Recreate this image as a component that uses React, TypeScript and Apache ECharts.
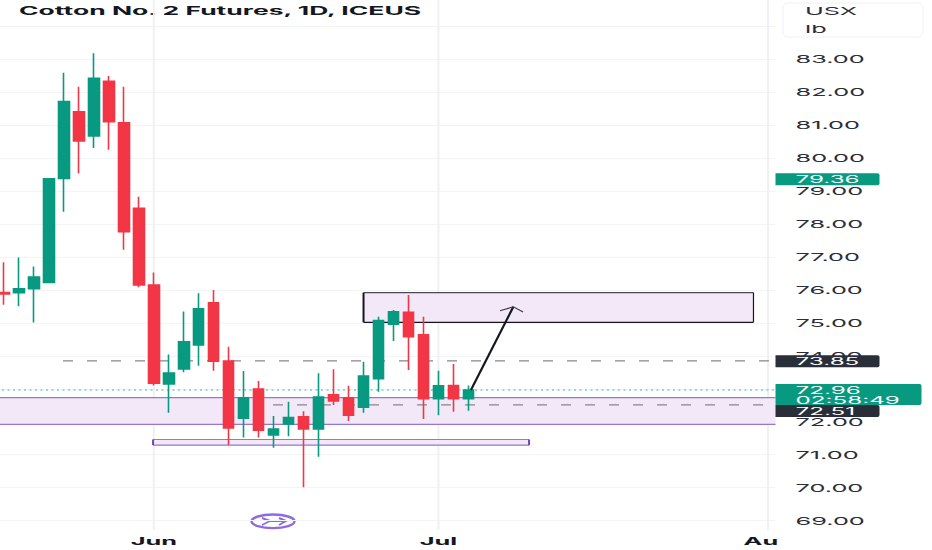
import React, { useEffect, useRef } from "react";
import * as echarts from "echarts";

const titleText = "Cotton No. 2 Futures, 1D, ICEUS";
const unitLabels = ["USX", "lb"];
const monthLabels: Record<number, string> = { 10: "Jun", 29: "Jul" };
const clippedMonth = "Au";
const opens = [75.92,75.92,76.04,76.23,79.39,81.41,80.68,82.34,81.08,78.48,76.15,73.15,73.60,74.33,75.61,73.84,72.11,72.99,71.60,71.93,72.15,71.78,72.82,72.73,72.44,73.31,74.96,75.32,74.64,72.70,73.10,72.70];
const closes = [75.88,76.04,76.39,79.38,81.72,80.53,82.43,81.11,77.77,76.15,73.17,73.48,74.43,75.43,73.84,71.81,72.73,71.74,71.78,72.13,71.78,72.75,72.63,72.20,73.39,75.07,75.34,74.58,72.70,73.09,72.70,72.96];
const lows = [75.55,75.51,75.01,76.23,78.38,79.54,80.31,80.26,77.22,76.08,73.10,72.27,73.50,73.70,73.55,71.29,71.52,71.52,71.21,71.56,70.01,70.94,72.51,72.02,72.27,72.91,74.45,73.57,72.08,72.20,72.30,72.33];
const highs = [76.84,76.99,76.71,79.38,82.60,82.17,83.19,82.50,82.17,78.83,76.53,74.04,75.35,75.90,76.00,74.28,73.54,73.24,72.17,72.61,72.32,73.47,73.59,73.09,73.82,75.19,75.39,75.85,75.19,73.55,73.75,73.10];
const slotCount = 52;
const hiddenTicks = [68, 73, 84, 85];
const dashedLevels = [{ price: 73.85, from: 3.94 }, { price: 72.51, from: 17.96 }];
const lastPrice = 72.96;
const monthLines = [10, 29, 51];
const bigZone = [72.73, 71.92];
const thinZone = { from: 9.95, to: 35.05, top: 71.46, bottom: 71.29 };
const blackZone = { from: 24.0, to: 50.03, top: 75.92, bottom: 75.02 };
const arrowLine = [[31.17, 72.96], [34.0, 75.49]];
const arrowHead = [[33.11, 75.37], [34.0, 75.49], [34.65, 75.33]];
const priceTags = [
  { price: 79.36, text: "79.36", fill: "#089981", shift: 0 },
  { price: 73.85, text: "73.85", fill: "#2a2e39", shift: 0.5 },
  { price: 72.51, text: "72.51", fill: "#2a2e39", shift: 6 },
];
const countdown = "02:58:49";

const FONT = "Inter, 'Liberation Sans', sans-serif";
const STRETCH = 2.3;
const TAG_STRETCH = 2.42;
// The canvas overhangs the page by this much, so the price axis can start on a whole number off-page.
const BLEED = 10;

export default function App() {
  const ref = useRef<HTMLDivElement>(null);
  useEffect(() => {
    const chart = echarts.init(ref.current!, undefined, { renderer: "svg" });
    const cats = Array.from({ length: slotCount }, (_, i) => monthLabels[i] ?? "");
    const candles = opens.map((o, i) => [o, closes[i], lows[i], highs[i]]);
    const purple = "#9575d6";
    const tagText = (x: number, y: number, text: string, fill: string, font = `10px ${FONT}`) => ({
      type: "text", x, y,
      style: { text, fill, font, verticalAlign: "middle" },
    });
    const under = (_: any, api: any) => {
      const c = (x: number, y: number) => api.coord([x, y]);
      const kids: any[] = [];
      const rectOf = (x0: number, x1: number, top: number, bot: number, fill: string) => {
        const a = c(x0, top); const b = c(x1, bot);
        return { type: "rect", shape: { x: a[0], y: a[1], width: b[0] - a[0], height: b[1] - a[1] }, style: { fill } };
      };
      const seg = (a: number[], b: number[], stroke: string, lineWidth: number, lineDash?: number[]) => ({
        type: "line", shape: { x1: a[0], y1: a[1], x2: b[0], y2: b[1] }, style: { stroke, lineWidth, lineDash },
      });
      monthLines.forEach((m) => {
        const x = c(m, 80)[0];
        kids.push(seg([x, BLEED], [x, 530 + BLEED], "#eff0f3", 2));
      });
      kids.push(rectOf(-0.5, 51.5, bigZone[0], bigZone[1], "#f3e8f7"));
      kids.push(seg(c(-0.5, bigZone[0]), c(51.5, bigZone[0]), purple, 1.2));
      kids.push(seg(c(-0.5, bigZone[1]), c(51.5, bigZone[1]), purple, 1.2));
      kids.push(rectOf(thinZone.from, thinZone.to, thinZone.top, thinZone.bottom, "#f3e8f7"));
      kids.push(seg(c(thinZone.from, thinZone.top), c(thinZone.to, thinZone.top), purple, 1.2));
      kids.push(seg(c(thinZone.from, thinZone.bottom), c(thinZone.to, thinZone.bottom), purple, 1.2));
      kids.push(seg(c(thinZone.from, thinZone.top), c(thinZone.from, thinZone.bottom), "#6a45c0", 2));
      kids.push(seg(c(thinZone.to, thinZone.top), c(thinZone.to, thinZone.bottom), "#6a45c0", 2));
      kids.push(rectOf(blackZone.from, blackZone.to, blackZone.top, blackZone.bottom, "#f3e8f7"));
      kids.push(seg(c(blackZone.from, blackZone.top), c(blackZone.to, blackZone.top), "#4a4a55", 1.2));
      kids.push(seg(c(blackZone.from, blackZone.bottom), c(blackZone.to, blackZone.bottom), "#16161e", 1.2));
      kids.push(seg(c(blackZone.from, blackZone.top), c(blackZone.from, blackZone.bottom), "#16161e", 2));
      kids.push(seg(c(blackZone.to, blackZone.top), c(blackZone.to, blackZone.bottom), "#16161e", 1.2));
      dashedLevels.forEach((d) => kids.push(seg(c(d.from, d.price), c(51.5, d.price), "#85858c", 1.3, [10, 14])));
      kids.push(seg(c(-0.5, lastPrice), c(51.5, lastPrice), "#7fcdbb", 1.5, [2, 3.5]));
      return { type: "group", children: kids };
    };
    const over = (_: any, api: any) => {
      const c = (x: number, y: number) => api.coord([x, y]);
      const kids: any[] = [];
      const right = c(51.5, 80)[0];
      kids.push({ type: "polyline", shape: { points: arrowLine.map((p) => c(p[0], p[1])) }, style: { stroke: "#131722", lineWidth: 2.2, fill: "none" } });
      kids.push({ type: "polyline", shape: { points: arrowHead.map((p) => c(p[0], p[1])) }, style: { stroke: "#3a3a44", lineWidth: 1.2, fill: "none" } });
      const y = c(0, lastPrice)[1];
      kids.push({ type: "rect", shape: { x: right, y: y - 6, width: 146, height: 21, r: [0, 2, 2, 0] }, style: { fill: "#089981" } });
      kids.push(tagText(right + 20, y, lastPrice.toFixed(2), "#ffffff"));
      kids.push(tagText(right + 20, y + 9.5, countdown, "#ffffff"));
      priceTags.forEach((t) => {
        const ty = c(0, t.price)[1] + t.shift;
        kids.push({ type: "rect", shape: { x: right, y: ty - 6, width: 104, height: 12, r: [0, 2, 2, 0] }, style: { fill: t.fill } });
        kids.push(tagText(right + 20, ty, t.text, "#ffffff"));
      });
      kids.push(tagText(right - 32, 541 + BLEED, clippedMonth, "#131722", `bold 11px ${FONT}`));
      return { type: "group", children: kids };
    };
    chart.setOption({
      animation: false,
      backgroundColor: "#ffffff",
      grid: { left: BLEED - 3.5, width: 779, top: BLEED - 6.36, height: 559.8, containLabel: false },
      xAxis: [
        {
          type: "category", data: cats, boundaryGap: true,
          axisLine: { show: false }, axisTick: { show: false }, splitLine: { show: false },
          axisLabel: {
            interval: 0, show: true, color: "#131722", fontFamily: FONT, fontSize: 11, fontWeight: "bold",
            formatter: (v: string) => v, margin: -12, hideOverlap: false,
            verticalAlign: "middle",
          },
          position: "bottom",
        },
        { type: "value", min: -0.5, max: 51.5, show: false, splitLine: { show: false } },
      ],
      yAxis: {
        type: "value", min: 68, max: 85, interval: 1, position: "right",
        axisLine: { show: false }, axisTick: { show: false },
        splitLine: { show: true, lineStyle: { color: "#f3f4f6", width: 1 } },
        axisLabel: {
          margin: 20, color: "#2a2e39", fontFamily: FONT, fontSize: 11,
          formatter: (v: number) => (hiddenTicks.includes(v) ? "" : v.toFixed(2)),
        },
      },
      series: [
        { type: "custom", xAxisIndex: 1, yAxisIndex: 0, z: 1, clip: false, silent: true, data: [[0, 80]], renderItem: under },
        {
          type: "candlestick", xAxisIndex: 0, yAxisIndex: 0, z: 3, barWidth: 11, data: candles, clip: false,
          itemStyle: { color: "#089981", color0: "#f23645", borderColor: "#089981", borderColor0: "#f23645", borderWidth: 1.6 },
        },
        { type: "custom", xAxisIndex: 1, yAxisIndex: 0, z: 5, clip: false, silent: true, data: [[0, 80]], renderItem: over },
      ],
      graphic: [{
        type: "group", x: BLEED, y: BLEED, z: 10,
        children: [
          { type: "text", x: 19, y: 11, style: { text: titleText, fill: "#131722", font: `bold 11.5px ${FONT}`, verticalAlign: "middle" } },
          { type: "rect", x: 783, y: 3, shape: { width: 140, height: 34, r: 5 }, style: { fill: "#ffffff", stroke: "#f0f1f4", lineWidth: 1 } },
          { type: "text", x: 805, y: 11, style: { text: unitLabels[0], fill: "#2a2e39", font: `11px ${FONT}`, verticalAlign: "middle" } },
          { type: "text", x: 805, y: 29, style: { text: unitLabels[1], fill: "#2a2e39", font: `11px ${FONT}`, verticalAlign: "middle" } },
          { type: "ellipse", shape: { cx: 273, cy: 521.3, rx: 21.5, ry: 6.8 }, style: { fill: "#ffffff", stroke: "#8e6be0", lineWidth: 2.4 } },
          { type: "polyline", shape: { points: [[262, 518], [270, 521], [286, 521]] }, style: { stroke: "#8e6be0", lineWidth: 2, fill: "none" } },
          { type: "polyline", shape: { points: [[279, 518], [286, 521], [279, 525]] }, style: { stroke: "#8e6be0", lineWidth: 2, fill: "none" } },
          { type: "line", shape: { x1: 262, y1: 525, x2: 270, y2: 521 }, style: { stroke: "#8e6be0", lineWidth: 1.5 } },
        ],
      }],
    });
    // The reference is a horizontally stretched screenshot: widen every real text to match.
    ref.current!.querySelectorAll("svg text").forEach((el: any) => {
      const len = el.getComputedTextLength();
      if (len > 0) {
        const small = parseFloat(getComputedStyle(el).fontSize) <= 10;
        el.setAttribute("textLength", String(len * (small ? TAG_STRETCH : STRETCH)));
        el.setAttribute("lengthAdjust", "spacingAndGlyphs");
      }
    });
    return () => chart.dispose();
  }, []);
  return (
    <div style={{ position: "fixed", left: 0, top: 0, width: 932, height: 550, overflow: "hidden", background: "#fff" }}>
      <div ref={ref} style={{ position: "absolute", left: -BLEED, top: -BLEED, width: 932 + BLEED, height: 550 + 2 * BLEED + 10 }} />
    </div>
  );
}
